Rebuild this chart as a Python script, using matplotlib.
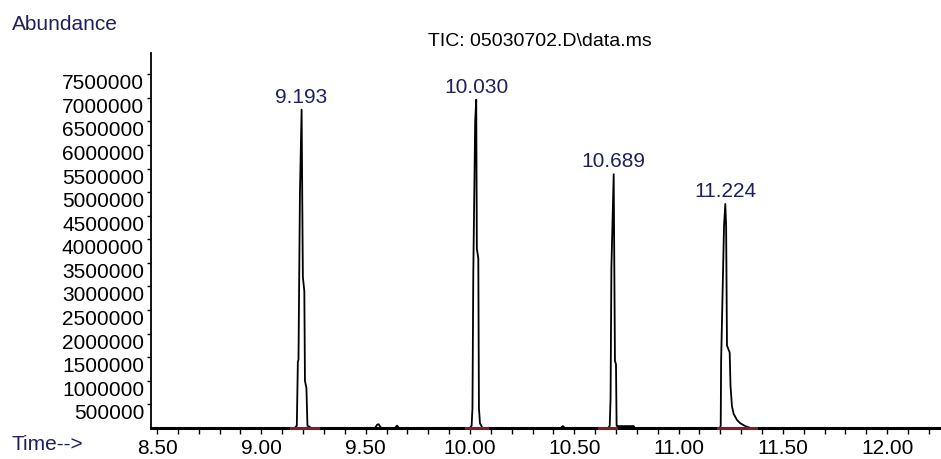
import matplotlib
matplotlib.use("Agg")
import matplotlib.pyplot as plt
import numpy as np

# chromatogram trace (time in min, abundance in counts)
time = [8.471, 9.160, 9.170, 9.175, 9.178, 9.185, 9.193, 9.196, 9.199, 9.206,
        9.209, 9.216, 9.221, 9.240,
        9.545, 9.555, 9.562, 9.575, 9.640, 9.650, 9.660,
        10.000, 10.008, 10.012, 10.016, 10.025, 10.030, 10.033, 10.040, 10.043,
        10.048, 10.060,
        10.435, 10.445, 10.455,
        10.664, 10.670, 10.674, 10.678, 10.689, 10.692, 10.695, 10.700, 10.703,
        10.706, 10.785, 10.790,
        11.198, 11.202, 11.204, 11.218, 11.224, 11.228, 11.232, 11.245, 11.249,
        11.256, 11.264, 11.280, 11.296, 11.320, 11.345, 12.258]
abundance = [0, 0, 0.05e6, 1.4e6, 1.45e6, 5.0e6, 6.75e6, 4.9e6, 3.2e6, 2.9e6,
             1.0e6, 0.85e6, 0.05e6, 0,
             0, 0.07e6, 0.08e6, 0, 0, 0.05e6, 0,
             0, 0.05e6, 0.42e6, 3.3e6, 6.5e6, 6.96e6, 3.8e6, 3.6e6, 0.42e6,
             0.1e6, 0,
             0, 0.04e6, 0,
             0, 0.05e6, 0.63e6, 3.4e6, 5.38e6, 3.4e6, 1.43e6, 1.35e6, 0.05e6,
             0.04e6, 0.04e6, 0,
             0, 0.05e6, 1.43e6, 4.3e6, 4.75e6, 4.26e6, 1.75e6, 1.6e6, 0.89e6,
             0.46e6, 0.3e6, 0.17e6, 0.1e6, 0.04e6, 0, 0]

peak_times = [9.193, 10.030, 10.689, 11.224]
peak_heights = [6.75e6, 6.96e6, 5.38e6, 4.75e6]
peak_labels = ["9.193", "10.030", "10.689", "11.224"]

# integration baselines (start, end)
int_start = [9.14, 9.98, 10.62, 11.19]
int_end = [9.27, 10.08, 10.70, 11.37]

yticks = [500000 * i for i in range(1, 16)]
xticks = [8.50, 9.00, 9.50, 10.00, 10.50, 11.00, 11.50, 12.00]

navy = "#20205e"
plt.rcParams['font.family'] = ['Liberation Sans', 'DejaVu Sans']

fig = plt.figure(figsize=(9.41, 4.59), dpi=100)
ax = fig.add_axes([151/941, 31/459, 790/941, 375/459])

ax.plot(time, abundance, color='black', lw=1.3, zorder=3)
for s, e in zip(int_start, int_end):
    ax.plot([s, e], [0, 0], color='#7a2222', lw=2.2, zorder=4, clip_on=False)

for t, h, lab in zip(peak_times, peak_heights, peak_labels):
    ax.annotate(lab, (t, h), xytext=(0, 2), textcoords='offset points',
                ha='center', va='bottom', fontsize=15, color=navy)

ax.set_xlim(8.471, 12.258)
ax.set_ylim(0, 7.95e6)

ax.set_yticks(yticks, [str(v) for v in yticks], va='top', fontsize=15)
ax.set_xticks(xticks, ["%.2f" % v for v in xticks], fontsize=15)
ax.set_xticks(np.arange(8.5, 12.26, 0.1), minor=True)
ax.tick_params(axis='y', direction='out', length=3, width=1, pad=2)
ax.tick_params(axis='x', which='both', direction='out', length=4, width=1, pad=4)

ax.spines['top'].set_visible(False)
ax.spines['right'].set_visible(False)
ax.spines['bottom'].set_linewidth(2.2)
ax.spines['left'].set_linewidth(1.3)

fig.text(12/941, 1 - 24/459, "Abundance", fontsize=15, color=navy, va='center', ha='left')
fig.text(12/941, 1 - 444/459, "Time-->", fontsize=15, color=navy, va='center', ha='left')
fig.text(540/941, 1 - 41/459, "TIC: 05030702.D\\data.ms", fontsize=14, color='black',
         va='center', ha='center')

fig.savefig("out.png", dpi=100, facecolor='white')
